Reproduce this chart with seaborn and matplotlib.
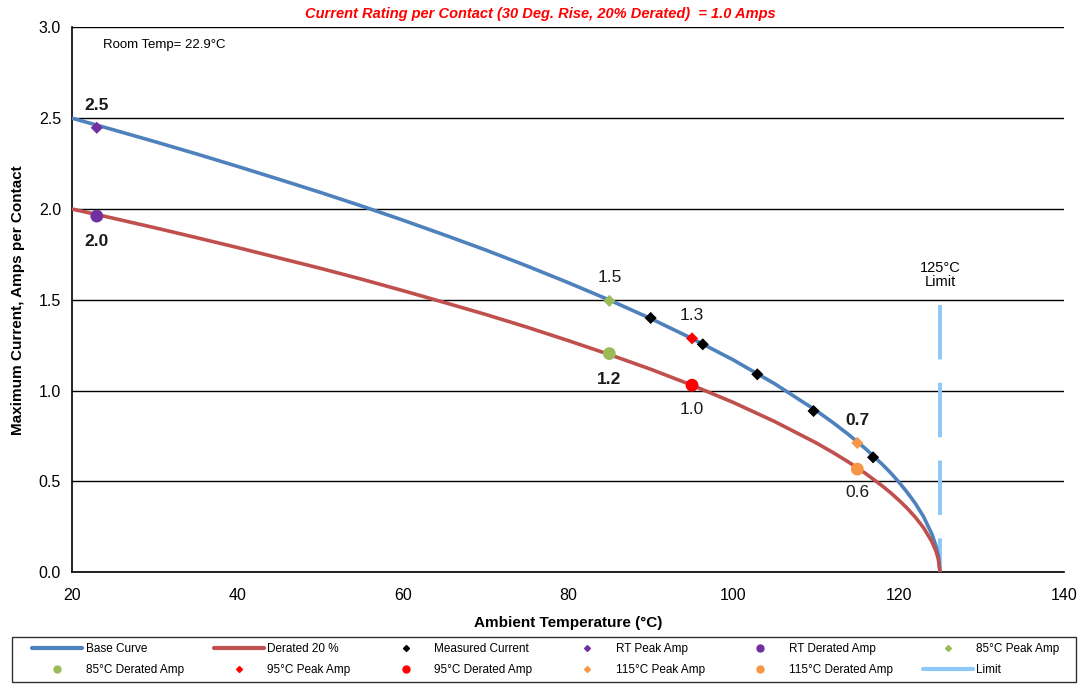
import pandas as pd
import matplotlib
matplotlib.use("Agg")
import matplotlib.pyplot as plt
import seaborn as sns
from matplotlib.lines import Line2D
from matplotlib.patches import Rectangle

# Curve readings (temperature in deg C, current in amps)
CURVE_TEMP = [20, 25, 30, 35, 40, 45, 50, 55, 60, 65, 70, 75, 80, 85, 90, 95,
              100, 105, 110, 112, 114, 116, 118, 119, 120, 121, 122, 123, 124,
              124.5, 124.8, 125]
BASE_AMPS = [2.500, 2.436, 2.371, 2.304, 2.235, 2.164, 2.092, 2.017, 1.939,
             1.858, 1.775, 1.687, 1.595, 1.499, 1.397, 1.287, 1.169, 1.038,
             0.891, 0.826, 0.756, 0.680, 0.595, 0.549, 0.498, 0.442, 0.380,
             0.307, 0.212, 0.147, 0.090, 0.0]
DERATED_AMPS = [2.000, 1.949, 1.897, 1.843, 1.788, 1.731, 1.674, 1.614, 1.551,
                1.486, 1.420, 1.350, 1.276, 1.199, 1.118, 1.030, 0.935, 0.830,
                0.713, 0.661, 0.605, 0.544, 0.476, 0.439, 0.398, 0.354, 0.304,
                0.246, 0.170, 0.118, 0.072, 0.0]

# Measured points
MEAS_TEMP = [90.0, 96.3, 102.9, 109.7, 116.9]
MEAS_AMPS = [1.40, 1.255, 1.09, 0.888, 0.633]

# Peak / derated points
PEAK_LABELS = ["RT Peak Amp", "85°C Peak Amp", "95°C Peak Amp", "115°C Peak Amp"]
PEAK_TEMP = [23.0, 85.0, 95.0, 115.0]
PEAK_AMPS = [2.447, 1.494, 1.288, 0.712]
DERATED_LABELS = ["RT Derated Amp", "85°C Derated Amp", "95°C Derated Amp", "115°C Derated Amp"]
DERATED_PT_AMPS = [1.961, 1.204, 1.030, 0.568]
POINT_COLORS = ["#7030A0", "#9BBB59", "#FF0000", "#F79646"]

# Limit line (drawn top-down so the dashes start at the top)
LIMIT_TEMP = [125, 125]
LIMIT_AMPS = [1.47, 0.0]

# Value callouts: text, temp, amps, bold
CALLOUTS = [("2.5", 23, 2.572, True), ("2.0", 23, 1.823, True),
            ("1.5", 85, 1.625, False), ("1.2", 85, 1.064, True),
            ("1.3", 95, 1.416, False), ("1.0", 95, 0.899, False),
            ("0.7", 115, 0.838, True), ("0.6", 115, 0.442, False)]

BLUE = "#4F81BD"
RED = "#C0504D"
LIMIT_BLUE = "#8DC8F8"

sns.set_style("white")
plt.rcParams['font.family'] = ['Liberation Sans', 'DejaVu Sans']
plt.rcParams['text.color'] = 'black'
plt.rcParams['axes.labelcolor'] = 'black'
plt.rcParams['xtick.color'] = 'black'
plt.rcParams['ytick.color'] = 'black'

curve = pd.DataFrame({"temp": CURVE_TEMP, "base": BASE_AMPS, "derated": DERATED_AMPS})

fig = plt.figure(figsize=(10.81, 6.85), dpi=100)
ax = fig.add_axes([0.0666, 0.1645, 0.9177, 0.7956])

sns.lineplot(data=curve, x="temp", y="base", color=BLUE, lw=2.6, ax=ax, zorder=3)
sns.lineplot(data=curve, x="temp", y="derated", color=RED, lw=2.6, ax=ax, zorder=3)
ax.plot(LIMIT_TEMP, LIMIT_AMPS, color=LIMIT_BLUE, lw=2.8, dashes=(14, 6),
        solid_capstyle="butt", dash_capstyle="butt", zorder=2)

sns.scatterplot(x=MEAS_TEMP, y=MEAS_AMPS, marker="D", s=38, color="black",
                edgecolor="none", ax=ax, zorder=5)
for i in range(len(PEAK_TEMP)):
    sns.scatterplot(x=[PEAK_TEMP[i]], y=[PEAK_AMPS[i]], marker="D", s=38,
                    color=POINT_COLORS[i], edgecolor="none", ax=ax, zorder=5)
    sns.scatterplot(x=[PEAK_TEMP[i]], y=[DERATED_PT_AMPS[i]], marker="o", s=85,
                    color=POINT_COLORS[i], edgecolor="none", ax=ax, zorder=5)

for txt, t, a, bold in CALLOUTS:
    ax.text(t, a, txt, ha="center", va="center", fontsize=12.5,
            fontweight="bold" if bold else "normal", color="#1a1a1a")

ax.text(125, 1.636, "125°C\nLimit", ha="center", va="center", fontsize=10.5,
        linespacing=1.0)
ax.text(23.7, 2.90, "Room Temp= 22.9°C", ha="left", va="center", fontsize=9.5)

# Axes styling
ax.set_xlim(20, 140)
ax.set_ylim(0, 3.0)
ax.set_xticks(range(20, 141, 20))
ax.set_yticks([0.0, 0.5, 1.0, 1.5, 2.0, 2.5, 3.0])
ax.set_yticklabels([f"{v:.1f}" for v in ax.get_yticks()])
ax.yaxis.grid(True, color="black", lw=1.0)
ax.xaxis.grid(False)
ax.set_axisbelow(True)
for side in ["top", "right"]:
    ax.spines[side].set_visible(False)
for side in ["left", "bottom"]:
    ax.spines[side].set_color("black")
    ax.spines[side].set_linewidth(1.2)
ax.tick_params(axis="both", direction="out", length=5, width=1, color="black",
               labelsize=11.5, pad=3)
ax.tick_params(axis="x", pad=6)
ax.set_xlabel("Ambient Temperature (°C)", fontsize=11, fontweight="bold", labelpad=10)
ax.set_ylabel("Maximum Current, Amps per Contact", fontsize=11, fontweight="bold", labelpad=10)

fig.text(0.5, 0.979, "Current Rating per Contact (30 Deg. Rise, 20% Derated)  = 1.0 Amps",
         ha="center", va="center", color="red", fontsize=10.5, fontweight="bold",
         fontstyle="italic")

# Legend below the chart (row-major order, matplotlib fills by column)
handles = [
    Line2D([], [], color=BLUE, lw=3, label="Base Curve"),
    Line2D([], [], color=RED, lw=3, label="Derated 20 %"),
    Line2D([], [], color="black", marker="D", ms=3, ls="none", label="Measured Current"),
    Line2D([], [], color=POINT_COLORS[0], marker="D", ms=3, ls="none", label=PEAK_LABELS[0]),
    Line2D([], [], color=POINT_COLORS[0], marker="o", ms=5, ls="none", label=DERATED_LABELS[0]),
    Line2D([], [], color=POINT_COLORS[1], marker="D", ms=3, ls="none", label=PEAK_LABELS[1]),
    Line2D([], [], color=POINT_COLORS[1], marker="o", ms=5, ls="none", label=DERATED_LABELS[1]),
    Line2D([], [], color=POINT_COLORS[2], marker="D", ms=3, ls="none", label=PEAK_LABELS[2]),
    Line2D([], [], color=POINT_COLORS[2], marker="o", ms=5, ls="none", label=DERATED_LABELS[2]),
    Line2D([], [], color=POINT_COLORS[3], marker="D", ms=3, ls="none", label=PEAK_LABELS[3]),
    Line2D([], [], color=POINT_COLORS[3], marker="o", ms=5, ls="none", label=DERATED_LABELS[3]),
    Line2D([], [], color=LIMIT_BLUE, lw=3, label="Limit"),
]
ordered = []
for c in range(6):
    ordered.append(handles[c])
    ordered.append(handles[c + 6])

leg = fig.legend(handles=ordered, ncol=6, loc="lower left",
                 bbox_to_anchor=(0.024, 0.004, 0.962, 0.066), mode="expand",
                 fontsize=8.5, frameon=False, handlelength=4.2,
                 handletextpad=0.3, borderaxespad=0, columnspacing=1.0,
                 labelspacing=0.75, borderpad=0.55)
# legend box spans the full width, drawn separately
fig.patches.append(Rectangle((0.011, 0.0044), 0.984, 0.0657, transform=fig.transFigure,
                             fill=False, edgecolor="#333333", lw=1.0))

plt.savefig("out.png", dpi=100)
plt.close()
print("Saved: out.png")
